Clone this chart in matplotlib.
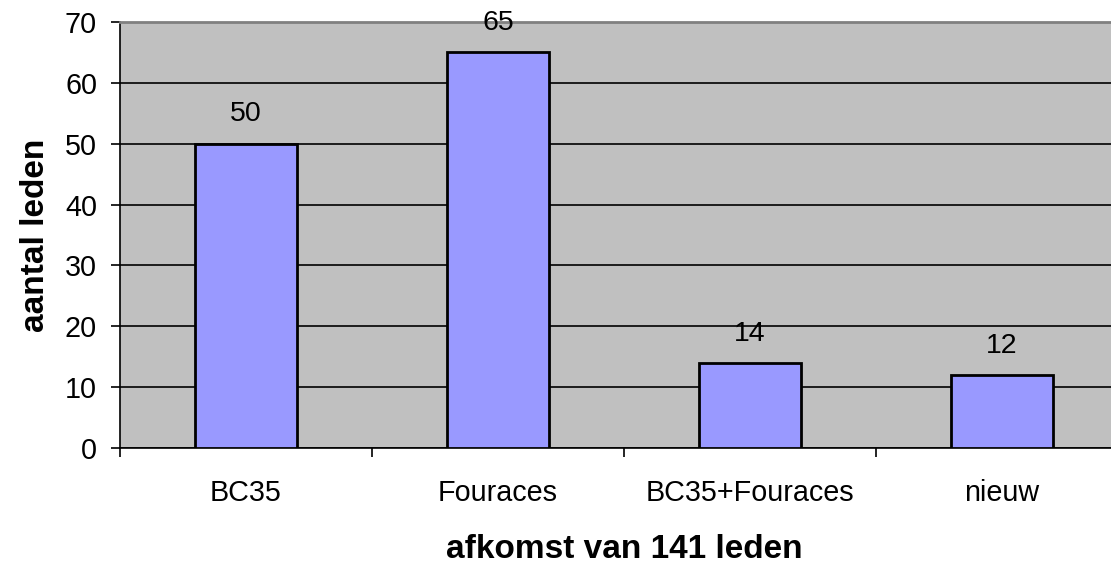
import matplotlib.pyplot as plt
import numpy as np

plt.rcParams['font.family'] = ['Liberation Sans', 'DejaVu Sans']

categories = ['BC35', 'Fouraces', 'BC35+Fouraces', 'nieuw']
values = [50, 65, 14, 12]

fig = plt.figure(figsize=(11.11, 5.66), dpi=100)
# plot area runs past the right edge, as in the reference
ax = fig.add_axes([120 / 1111, 118 / 566, 1008 / 1111, 426 / 566])
ax.set_facecolor('#C0C0C0')

x = np.arange(len(categories))
bars = ax.bar(x, values, width=0.405, color='#9999FF', edgecolor='black',
              linewidth=2, zorder=3)
for rect, v in zip(bars, values):
    ax.annotate(str(v), (rect.get_x() + rect.get_width() / 2, v),
                xytext=(0, 16), textcoords='offset points',
                ha='center', va='baseline', fontsize=20.5)

ax.set_xlim(-0.5, len(categories) - 0.5)
ax.set_ylim(0, 70)
ax.set_yticks(range(0, 71, 10))
ax.yaxis.grid(True, color='black', linewidth=1.2, zorder=0)
ax.set_axisbelow(True)

ax.set_xticks(x)
ax.set_xticklabels(categories, fontsize=20.7)
ax.set_xticks(np.arange(-0.5, len(categories), 1), minor=True)
ax.tick_params(axis='x', which='major', length=0, pad=22)
ax.tick_params(axis='x', which='minor', length=6.5, width=1.2, color='black')
ax.tick_params(axis='y', labelsize=20.7, length=6.5, width=1.2, pad=10)

ax.spines['left'].set_linewidth(1.2)
ax.spines['bottom'].set_linewidth(1.2)
ax.spines['top'].set_color('#808080')
ax.spines['top'].set_linewidth(2)
ax.spines['right'].set_visible(False)

ax.set_xlabel('afkomst van 141 leden', fontsize=24, fontweight='bold', labelpad=20)
ax.set_ylabel('aantal leden', fontsize=24, fontweight='bold', labelpad=10)

fig.savefig('out.png', dpi=100)
